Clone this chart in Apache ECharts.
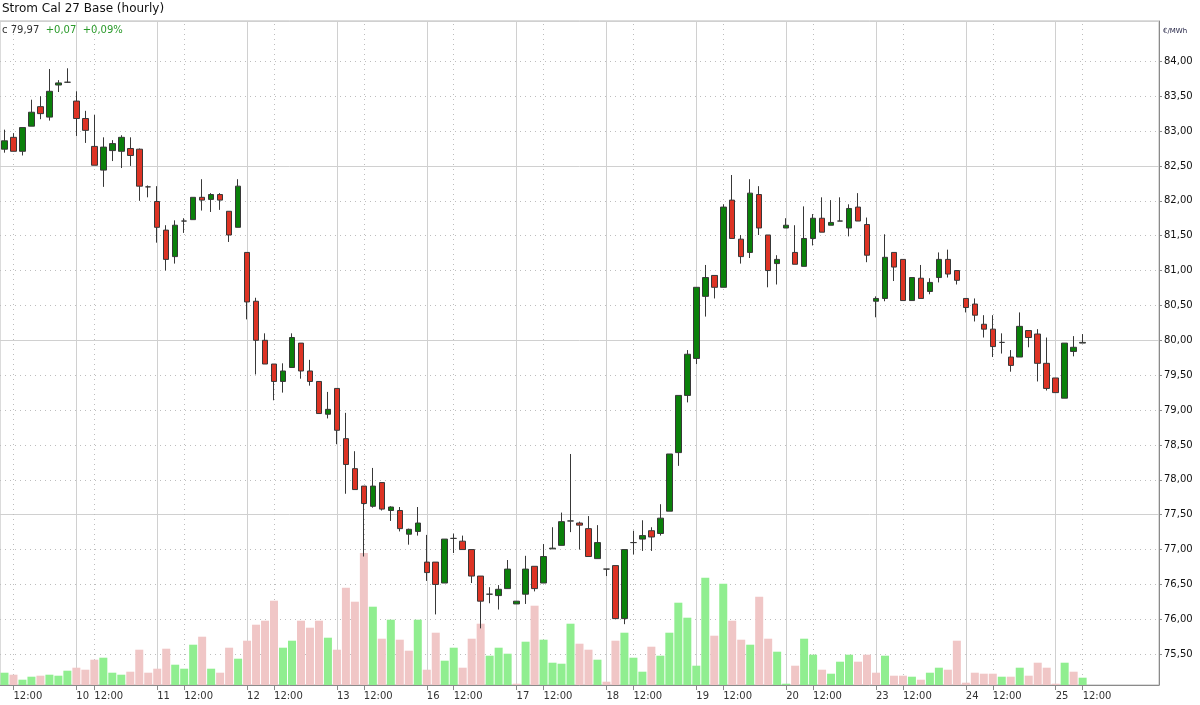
<!DOCTYPE html>
<html>
<head>
<meta charset="utf-8">
<script src="https://cdn.jsdelivr.net/npm/echarts@6/dist/echarts.min.js"></script>
<style>
html,body{margin:0;padding:0;background:#ffffff;}
#chart{width:1200px;height:705px;}
</style>
</head>
<body>
<div id="chart"></div>
<script>
// ---- Data ----
const tradingDays = [9, 10, 11, 12, 13, 16, 17, 18, 19, 20, 23, 24, 25];
const firstHour   = [11, 10, 9, 9, 9, 9, 9, 9, 9, 9, 9, 9, 9];
const lastHour    = [18, 18, 18, 18, 18, 18, 18, 18, 18, 18, 18, 18, 12];
const emptySlots  = 8;

const opens = [
  82.74,82.91,82.71,83.07,83.35,83.20,83.66,83.70,83.43,83.18,
  82.78,82.44,82.72,82.71,82.75,82.74,82.20,81.99,81.58,81.20,
  81.71,81.73,82.05,82.02,82.09,81.85,81.62,81.26,80.56,80.00,
  79.66,79.41,79.61,79.96,79.56,79.41,78.94,79.31,78.59,78.16,
  77.91,77.62,77.96,77.56,77.56,77.22,77.26,76.82,76.82,76.52,
  77.16,77.12,77.00,76.62,76.36,76.34,76.44,76.22,76.36,76.76,
  76.52,77.01,77.06,77.41,77.38,77.30,76.87,76.72,76.77,76.01,
  77.10,77.15,77.27,77.23,77.55,78.39,79.21,79.74,80.63,80.93,
  80.76,82.01,81.45,81.26,82.09,81.51,81.10,81.61,81.26,81.06,
  81.46,81.75,81.65,81.71,81.61,81.91,81.66,80.56,80.60,81.26,
  81.16,80.57,80.89,80.70,80.90,81.16,81.00,80.60,80.52,80.23,
  80.16,79.97,79.76,79.76,80.14,80.09,79.67,79.46,79.17,79.84,
  79.96
];
const closes = [
  82.86,82.71,83.05,83.27,83.25,83.57,83.69,83.70,83.18,83.01,
  82.51,82.77,82.82,82.91,82.65,82.21,82.20,81.62,81.16,81.65,
  81.71,82.05,82.01,82.09,82.01,81.51,82.21,80.55,80.00,79.66,
  79.41,79.56,80.04,79.56,79.41,78.95,79.01,78.71,78.22,77.86,
  77.66,77.91,77.58,77.61,77.30,77.29,77.38,76.67,76.50,77.15,
  77.16,77.00,76.62,76.26,76.36,76.43,76.72,76.26,76.72,76.44,
  76.90,77.02,77.40,77.41,77.35,76.90,77.10,76.72,76.01,77.00,
  77.10,77.20,77.18,77.45,78.37,79.21,79.80,80.76,80.90,80.76,
  81.91,81.46,81.20,82.11,81.61,81.00,81.16,81.65,81.09,81.46,
  81.75,81.55,81.69,81.71,81.89,81.71,81.22,80.60,81.19,81.05,
  80.57,80.90,80.60,80.83,81.16,80.95,80.86,80.47,80.36,80.16,
  79.91,79.97,79.64,80.20,80.04,79.67,79.31,79.25,79.96,79.90,
  79.97
];
const lows = [
  82.69,82.71,82.65,83.07,83.17,83.15,83.56,83.69,82.93,82.83,
  82.51,82.20,82.57,82.47,82.50,82.00,82.05,81.40,81.00,81.10,
  81.54,81.73,81.86,81.84,81.87,81.41,81.62,80.30,79.51,79.66,
  79.14,79.25,79.61,79.45,79.35,78.95,78.88,78.51,77.80,77.86,
  76.90,77.60,77.56,77.41,77.26,77.07,77.20,76.55,76.07,76.52,
  76.95,77.00,76.52,75.87,76.23,76.14,76.44,76.22,76.22,76.40,
  76.52,77.01,77.06,77.25,77.00,76.90,76.87,76.62,76.01,75.93,
  76.93,76.98,76.98,77.20,77.55,78.20,79.11,79.66,80.34,80.60,
  80.76,81.46,81.10,81.18,81.51,80.76,80.80,81.61,81.09,81.06,
  81.36,81.55,81.65,81.71,81.49,81.71,81.12,80.33,80.56,80.85,
  80.57,80.57,80.60,80.66,80.83,80.90,80.80,80.40,80.27,80.04,
  79.76,79.81,79.55,79.76,79.90,79.41,79.28,79.25,79.17,79.77,
  79.96
];
const highs = [
  83.02,82.97,83.05,83.45,83.50,83.89,83.73,83.90,83.57,83.29,
  83.23,82.91,82.87,82.94,82.91,82.75,82.22,82.21,81.65,81.72,
  81.75,82.05,82.31,82.11,82.11,81.85,82.31,81.26,80.61,80.10,
  79.66,79.67,80.10,79.96,79.72,79.41,79.26,79.31,78.96,78.41,
  77.91,78.17,77.96,77.62,77.61,77.30,77.61,77.21,76.82,77.15,
  77.23,77.20,77.00,76.62,76.46,76.49,76.85,76.26,76.91,76.76,
  77.08,77.32,77.53,78.37,77.40,77.48,77.35,76.72,76.77,77.00,
  77.27,77.42,77.32,77.65,78.37,79.21,79.86,80.76,81.08,80.93,
  81.95,82.37,81.51,82.31,82.21,81.51,81.22,81.75,81.65,81.92,
  81.81,82.05,82.01,82.05,81.95,82.11,81.76,80.63,81.52,81.26,
  81.16,80.90,81.08,80.89,81.26,81.30,81.00,80.60,80.60,80.36,
  80.36,80.10,79.86,80.40,80.14,80.16,80.04,79.46,79.96,80.06,
  80.09
];
const volumes = [
  123,103,53,83,93,103,93,143,173,153,
  253,273,123,103,133,353,123,163,363,203,
  163,403,483,163,123,373,263,443,603,643,
  843,373,443,643,573,643,473,353,973,833,
  1320,783,463,653,453,343,653,153,523,243,
  373,173,463,613,293,373,313,13,433,793,
  453,223,213,613,413,353,253,33,443,523,
  273,133,383,293,523,823,673,193,1073,493,
  1013,643,453,403,883,463,333,13,193,463,
  303,153,113,233,303,233,303,123,293,93,
  93,83,53,123,173,153,443,23,123,113,
  113,83,83,173,93,223,173,13,223,133,
  73
];
const priceTickLabels = [75.5, 76, 76.5, 77, 77.5, 78, 78.5, 79, 79.5, 80, 80.5, 81, 81.5, 82, 82.5, 83, 83.5, 84];
const priceLabelStep = 0.5;
const priceMajorStep = 2.5;
const volumeAxisMax = 6640;
const lastQuote = {close: '79,97', change: '+0,07', changePct: '+0,09%'};

// ---- Build categories ----
const cats = [], dayStart = [], noon = [];
tradingDays.forEach((d, k) => {
  for (let h = firstHour[k]; h <= lastHour[k]; h++) {
    cats.push(d + ' ' + (h < 10 ? '0' + h : h) + ':00');
    dayStart.push(k > 0 && h === firstHour[k]);
    noon.push(h === 12);
  }
});
for (let p = 0; p < emptySlots; p++) { cats.push('empty' + p); dayStart.push(false); noon.push(false); }
const shown = (i) => dayStart[i] || noon[i];

const candleData = opens.map((o, i) => [o, closes[i], lows[i], highs[i]]);
const volData = volumes.map((v, i) => ({
  value: v,
  itemStyle: {color: (i === 0 || closes[i] > closes[i - 1]) ? '#90ee90' : '#f0c6c6'}
}));

const gridMarks = [];
cats.forEach((c, i) => {
  if (dayStart[i]) gridMarks.push({xAxis: c, lineStyle: {type: 'solid', color: '#d0d0d0', width: 1}});
  else if (noon[i]) gridMarks.push({xAxis: c, lineStyle: {type: [1, 4], color: '#bdbdbd', width: 1}});
});

const yMin = 75.058, yMax = 84.578;
const FONT = 'DejaVu Sans';
const isLabelValue = (v) => priceTickLabels.some(t => Math.abs(t - v) < 1e-6);

const chart = echarts.init(document.getElementById('chart'), null, {renderer: 'canvas'});
chart.setOption({
  animation: false,
  backgroundColor: '#ffffff',
  grid: {left: 0, right: 41, top: 21, bottom: 20, show: true, borderColor: '#b8b8b8', borderWidth: 1, containLabel: false},
  xAxis: [{
    type: 'category', data: cats, boundaryGap: true,
    axisLine: {show: true, lineStyle: {color: '#8a8a8a'}},
    axisTick: {show: true, alignWithLabel: true, interval: shown, length: 5, lineStyle: {color: '#8a8a8a'}},
    axisLabel: {
      interval: shown, align: 'left', margin: 6, color: '#333', fontFamily: FONT, fontSize: 10,
      formatter: (v, i) => noon[i] ? '12:00' : (dayStart[i] ? v.split(' ')[0] : '')
    },
    splitLine: {show: false}
  }],
  yAxis: [{
    type: 'value', position: 'right', min: yMin, max: yMax,
    minInterval: priceLabelStep, maxInterval: priceLabelStep, splitNumber: 19,
    axisLine: {show: true, lineStyle: {color: '#8a8a8a'}},
    axisTick: {show: true, length: 3, customValues: priceTickLabels, lineStyle: {color: '#8a8a8a'}},
    axisLabel: {
      margin: 5, color: '#111', fontFamily: FONT, fontSize: 10,
      customValues: priceTickLabels,
      formatter: (v) => isLabelValue(v) ? v.toFixed(2).replace('.', ',') : ''
    },
    splitLine: {show: true, lineStyle: {color: '#bdbdbd', type: [1, 4]}}
  }, {
    type: 'value', position: 'right', min: yMin, max: yMax,
    minInterval: priceMajorStep, maxInterval: priceMajorStep, splitNumber: 4,
    axisLine: {show: false}, axisTick: {show: false}, axisLabel: {show: false},
    splitLine: {show: true, lineStyle: {color: '#d0d0d0', type: 'solid'}}
  }, {
    type: 'value', min: 0, max: volumeAxisMax, show: false,
    axisLine: {show: false}, axisTick: {show: false}, axisLabel: {show: false}, splitLine: {show: false}
  }],
  series: [{
    type: 'bar', name: 'volume', xAxisIndex: 0, yAxisIndex: 2, data: volData, barWidth: 8, z: 2, silent: true,
    markLine: {silent: true, symbol: 'none', z: 1, animation: false, label: {show: false}, emphasis: {disabled: true}, data: gridMarks}
  }, {
    type: 'candlestick', name: 'price', xAxisIndex: 0, yAxisIndex: 0, data: candleData, barWidth: 6, z: 3, silent: true,
    itemStyle: {color: '#0a800a', color0: '#dd3324', borderColor: '#383838', borderColor0: '#383838', borderColorDoji: '#383838', borderWidth: 1}
  }],
  graphic: [{
    type: 'text', left: 2, top: 3, z: 10,
    style: {text: 'Strom Cal 27 Base (hourly)', font: '12px "DejaVu Sans"', fill: '#111'}
  }, {
    type: 'text', left: 2, top: 25, z: 10,
    style: {
      text: '{a|c ' + lastQuote.close + '}  {b|' + lastQuote.change + '}  {b|' + lastQuote.changePct + '}',
      rich: {a: {font: '10px "DejaVu Sans"', fill: '#333'}, b: {font: '10px "DejaVu Sans"', fill: '#2a9a2a'}},
      font: '10px "DejaVu Sans"'
    }
  }, {
    type: 'text', left: 1163, top: 28, z: 10,
    style: {text: '€/MWh', font: '7px "DejaVu Sans"', fill: '#222244'}
  }]
});
</script>
</body>
</html>
